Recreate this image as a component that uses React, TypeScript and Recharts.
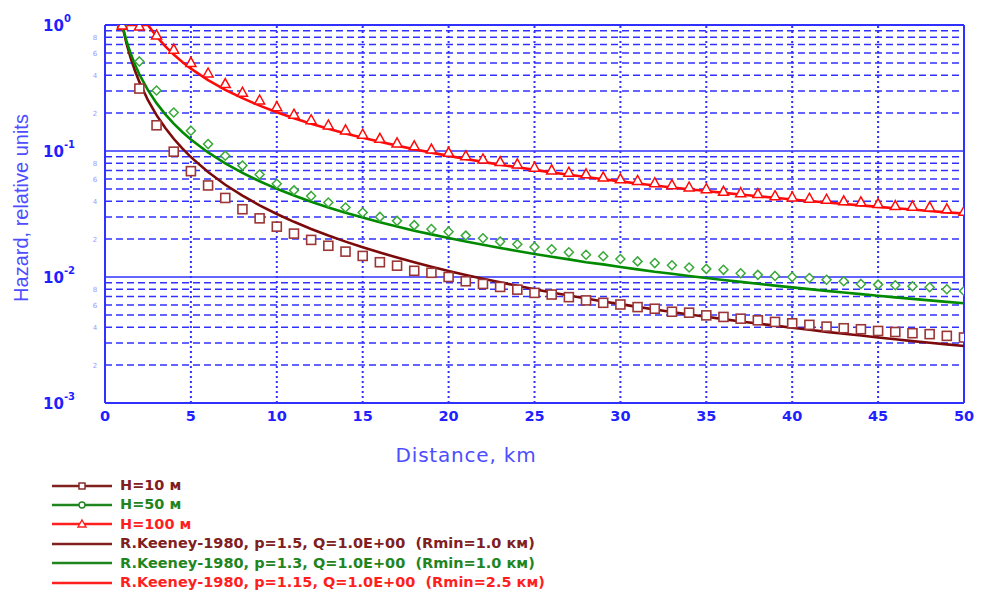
import { LineChart, Line, XAxis, YAxis, ReferenceLine } from 'recharts';

// markers: hazard at whole kilometres
const distKm = [
  1, 2, 3, 4, 5, 6, 7, 8, 9, 10, 11, 12, 13, 14, 15, 16, 17, 18, 19, 20, 21, 22, 23, 24, 25,
  26, 27, 28, 29, 30, 31, 32, 33, 34, 35, 36, 37, 38, 39, 40, 41, 42, 43, 44, 45, 46, 47, 48, 49, 50,
];
const hazardH10 = [
  1, 0.313, 0.16, 0.0988, 0.0692, 0.0533, 0.0424, 0.0345, 0.0292, 0.0251,
  0.0221, 0.0197, 0.0177, 0.0159, 0.0147, 0.0131, 0.0123, 0.0112, 0.0108, 0.01,
  0.00925, 0.00881, 0.00834, 0.00794, 0.00748, 0.00726, 0.00692, 0.00652, 0.00624, 0.00605,
  0.00577, 0.0056, 0.0053, 0.00521, 0.00496, 0.00482, 0.00467, 0.00453, 0.0044, 0.00429,
  0.00417, 0.00404, 0.00392, 0.00385, 0.00373, 0.00366, 0.00358, 0.00352, 0.00341, 0.00331,
];
const hazardH50 = [
  1, 0.514, 0.302, 0.202, 0.145, 0.1135, 0.0918, 0.0766, 0.0651, 0.055,
  0.0487, 0.044, 0.039, 0.0356, 0.0325, 0.03, 0.0279, 0.0258, 0.024, 0.0229,
  0.0213, 0.0203, 0.0191, 0.0182, 0.0173, 0.0166, 0.0157, 0.015, 0.0146, 0.0139,
  0.0133, 0.0129, 0.0124, 0.0119, 0.0116, 0.0114, 0.0107, 0.0104, 0.0102, 0.01,
  0.00982, 0.00951, 0.00925, 0.00881, 0.0087, 0.0086, 0.00845, 0.0083, 0.008, 0.00775,
];
const hazardH100 = [
  1, 0.98, 0.834, 0.643, 0.505, 0.416, 0.343, 0.293, 0.254, 0.225,
  0.196, 0.177, 0.161, 0.147, 0.136, 0.126, 0.116, 0.11, 0.1037, 0.0977,
  0.0918, 0.0865, 0.0824, 0.079, 0.0744, 0.0708, 0.0679, 0.0659, 0.0621, 0.0602,
  0.0584, 0.056, 0.054, 0.0518, 0.0502, 0.0479, 0.0467, 0.0459, 0.0442, 0.0432,
  0.0422, 0.0414, 0.0402, 0.0395, 0.0383, 0.0369, 0.0365, 0.036, 0.0348, 0.0333,
];

// R.Keeney-1980 curves
const curveKm = [
  1, 1.25, 1.5, 1.75, 2, 2.5, 3, 3.5, 4, 4.5, 5,
  6, 7, 8, 9, 10, 11, 12, 13, 14, 15, 16, 17, 18, 19, 20, 21, 22, 23, 24, 25,
  26, 27, 28, 29, 30, 31, 32, 33, 34, 35, 36, 37, 38, 39, 40, 41, 42, 43, 44, 45, 46, 47, 48, 49, 50,
];
const keeneyP15 = [
  1, 0.7155, 0.5443, 0.4319, 0.3536, 0.253, 0.1925, 0.1527, 0.125, 0.1048, 0.08944,
  0.06804, 0.05399, 0.04419, 0.03704, 0.03162, 0.02741, 0.02406, 0.02133, 0.01909, 0.01721,
  0.01563, 0.01427, 0.01309, 0.01207, 0.01118, 0.01039, 0.00969, 0.00907, 0.00851, 0.008,
  0.00754, 0.00713, 0.00675, 0.0064, 0.00609, 0.00579, 0.00552, 0.00528, 0.00504, 0.00483,
  0.00463, 0.00444, 0.00427, 0.00411, 0.00395, 0.00381, 0.00367, 0.00355, 0.00343, 0.00331,
  0.00321, 0.0031, 0.00301, 0.00292, 0.00283,
];
const keeneyP13 = [
  1, 0.7482, 0.5903, 0.4831, 0.4061, 0.3039, 0.2397, 0.1962, 0.1649, 0.1415, 0.1234,
  0.0974, 0.0797, 0.067, 0.0575, 0.0501, 0.0443, 0.0395, 0.0356, 0.0324, 0.0296,
  0.0272, 0.0252, 0.0233, 0.0218, 0.0204, 0.0191, 0.018, 0.017, 0.0161, 0.0152,
  0.0145, 0.0138, 0.0131, 0.0126, 0.012, 0.0115, 0.011, 0.0106, 0.0102, 0.00983,
  0.00948, 0.00915, 0.00884, 0.00854, 0.00827, 0.00801, 0.00776, 0.00753, 0.00731, 0.00709,
  0.00689, 0.0067, 0.00652, 0.00635, 0.00619,
];
const keeneyP115 = [
  1, 1, 1, 1, 1, 1, 0.8108, 0.6791, 0.5825, 0.5087, 0.4506,
  0.3654, 0.306, 0.2625, 0.2292, 0.2031, 0.182, 0.1647, 0.1502, 0.1379, 0.1274,
  0.1183, 0.1103, 0.1033, 0.0971, 0.0915, 0.0865, 0.082, 0.0779, 0.0742, 0.0708,
  0.0677, 0.0648, 0.0621, 0.0597, 0.0574, 0.0553, 0.0533, 0.0514, 0.0497, 0.0481,
  0.0465, 0.0451, 0.0437, 0.0425, 0.0412, 0.0401, 0.039, 0.038, 0.037, 0.036,
  0.0351, 0.0343, 0.0334, 0.0326, 0.0319,
];

const xTicks = [0, 5, 10, 15, 20, 25, 30, 35, 40, 45, 50];
const xGridKm = [5, 10, 15, 20, 25, 30, 35, 40, 45];
const yTicks = [
  1, 0.9, 0.8, 0.7, 0.6, 0.5, 0.4, 0.3, 0.2,
  0.1, 0.09, 0.08, 0.07, 0.06, 0.05, 0.04, 0.03, 0.02,
  0.01, 0.009, 0.008, 0.007, 0.006, 0.005, 0.004, 0.003, 0.002,
  0.001,
];
const yMajor = [1, 0.1, 0.01, 0.001];
const yMajorExp = ['0', '-1', '-2', '-3'];
const yMinorLabeled = [0.8, 0.6, 0.4, 0.2, 0.08, 0.06, 0.04, 0.02, 0.008, 0.006, 0.004, 0.002];
const yMinorText = ['8', '6', '4', '2', '8', '6', '4', '2', '8', '6', '4', '2'];

const legendLabels = [
  'H=10 м',
  'H=50 м',
  'H=100 м',
  'R.Keeney-1980, p=1.5, Q=1.0E+00  (Rmin=1.0 км)',
  'R.Keeney-1980, p=1.3, Q=1.0E+00  (Rmin=1.0 км)',
  'R.Keeney-1980, p=1.15, Q=1.0E+00  (Rmin=2.5 км)',
];

const BLUE = '#3030ff';
const BROWN = '#7d0a0a';
const BROWN_MARK = '#9c3535';
const GREEN = '#008a00';
const GREEN_MARK = '#3aa83a';
const RED = '#ff0a0a';
const legendColors = ['#80201f', '#1f861f', '#ff1f1f', '#80201f', '#1f861f', '#ff1f1f'];
const legendMarks = ['square', 'circle', 'triangle', '', '', ''];

const toPoints = (xs: number[], ys: number[]) => xs.map((r, i) => ({ r, h: ys[i] }));
const h10Data = toPoints(distKm, hazardH10);
const h50Data = toPoints(distKm, hazardH50);
const h100Data = toPoints(distKm, hazardH100);
const p15Data = toPoints(curveKm, keeneyP15);
const p13Data = toPoints(curveKm, keeneyP13);
const p115Data = toPoints(curveKm, keeneyP115);

const squareDot = (props: any) => (
  <rect key={`sq-${props.index}`} x={props.cx - 4.5} y={props.cy - 4.5} width={9} height={9}
    fill="#fff" stroke={BROWN_MARK} strokeWidth={1.6} />
);
const diamondDot = (props: any) => {
  const { cx, cy } = props;
  return (
    <path key={`dm-${props.index}`} d={`M${cx},${cy - 4.5}L${cx + 4.5},${cy}L${cx},${cy + 4.5}L${cx - 4.5},${cy}Z`}
      fill="#fff" stroke={GREEN_MARK} strokeWidth={1.5} />
  );
};
const triangleDot = (props: any) => {
  const { cx, cy } = props;
  return (
    <path key={`tr-${props.index}`} d={`M${cx},${cy - 5}L${cx + 5},${cy + 4}L${cx - 5},${cy + 4}Z`}
      fill="#fff" stroke={RED} strokeWidth={1.5} />
  );
};

const YTick = (props: any) => {
  const { y, payload } = props;
  const v = payload.value;
  const mi = yMajor.indexOf(v);
  if (mi >= 0) {
    return (
      <text x={43} y={y + 6} fill="#1f1fff" fontFamily="'DejaVu Sans', Verdana, sans-serif" fontWeight="bold" fontSize={15}>
        10<tspan dy={-9} fontSize={10}>{yMajorExp[mi]}</tspan>
      </text>
    );
  }
  const ni = yMinorLabeled.findIndex((m) => Math.abs(m - v) < m * 1e-6);
  if (ni < 0) return <g />;
  return (
    <text x={95} y={y + 3} textAnchor="middle" fill="#9a9aff" fontFamily="'DejaVu Sans', sans-serif" fontSize={7}>
      {yMinorText[ni]}
    </text>
  );
};

const YTitle = () => (
  <text x={21} y={208} transform="rotate(-90 21 208)" textAnchor="middle" dominantBaseline="central"
    fill="#4d4dff" fontFamily="'Liberation Sans', Arial, sans-serif" fontSize={20}>
    Hazard, relative units
  </text>
);

const XTitle = () => (
  <text x={466} y={462} textAnchor="middle" fill="#4d4dff"
    fontFamily="'DejaVu Sans', Verdana, sans-serif" fontSize={20} letterSpacing={0.8}>
    Distance, km
  </text>
);

function LegendMark({ kind, color }: { kind: string; color: string }) {
  return (
    <svg width={60} height={12} style={{ display: 'block' }}>
      <line x1={0} y1={6} x2={60} y2={6} stroke={color} strokeWidth={2.5} />
      {kind === 'square' && <rect x={27} y={3} width={6} height={6} fill="#fff" stroke={color} strokeWidth={1.4} />}
      {kind === 'circle' && <circle cx={30} cy={6} r={3} fill="#fff" stroke={color} strokeWidth={1.4} />}
      {kind === 'triangle' && <path d="M30,2L34,9L26,9Z" fill="#fff" stroke={color} strokeWidth={1.4} />}
    </svg>
  );
}

export default function App() {
  return (
    <div style={{ position: 'absolute', left: 0, top: 0, width: 982, height: 602, background: '#fff' }}>
      <LineChart width={982} height={602} margin={{ top: 25, right: 18, left: 0, bottom: 139 }}>
        <XAxis
          type="number"
          dataKey="r"
          domain={[0, 50]}
          ticks={xTicks}
          interval={0}
          allowDataOverflow
          height={60}
          tickLine={false}
          axisLine={{ stroke: BLUE, strokeWidth: 2 }}
          tick={{ fill: '#1f1fff', fontSize: 14.5, fontWeight: 'bold', fontFamily: "'DejaVu Sans', Verdana, sans-serif" }}
          label={<XTitle />}
        />
        <YAxis
          type="number"
          scale="log"
          domain={[0.001, 1]}
          ticks={yTicks}
          interval={0}
          allowDataOverflow
          width={105}
          tickLine={false}
          axisLine={{ stroke: BLUE, strokeWidth: 2 }}
          tick={<YTick />}
          label={<YTitle />}
        />
        {yTicks.filter((v) => v < 1 && v > 0.001).map((v) => (
          <ReferenceLine key={`hy-${v}`} y={v} stroke={BLUE} strokeWidth={1.5}
            strokeDasharray={yMajor.includes(v) ? undefined : '7 4'} />
        ))}
        <ReferenceLine y={1} stroke={BLUE} strokeWidth={2} />
        {xGridKm.map((v) => (
          <ReferenceLine key={`vx-${v}`} x={v} stroke={BLUE} strokeWidth={2} strokeDasharray="2 3" />
        ))}
        <ReferenceLine x={50} stroke={BLUE} strokeWidth={2} />

        <Line data={p15Data} dataKey="h" stroke={BROWN} strokeWidth={2.6} dot={false} isAnimationActive={false} />
        <Line data={p13Data} dataKey="h" stroke={GREEN} strokeWidth={2.6} dot={false} isAnimationActive={false} />
        <Line data={p115Data} dataKey="h" stroke={RED} strokeWidth={2.6} dot={false} isAnimationActive={false} />
        <Line data={h10Data} dataKey="h" stroke="none" dot={squareDot} isAnimationActive={false} />
        <Line data={h50Data} dataKey="h" stroke="none" dot={diamondDot} isAnimationActive={false} />
        <Line data={h100Data} dataKey="h" stroke="none" dot={triangleDot} isAnimationActive={false} />
      </LineChart>

      <div style={{ position: 'absolute', left: 52, top: 476, fontFamily: "'DejaVu Sans', Verdana, sans-serif", fontWeight: 'bold', fontSize: 14.5 }}>
        {legendLabels.map((label, i) => (
          <div key={label} style={{ display: 'flex', alignItems: 'center', height: 19.4 }}>
            <LegendMark kind={legendMarks[i]} color={legendColors[i]} />
            <span style={{ marginLeft: 8, color: legendColors[i], whiteSpace: 'pre', lineHeight: '19.4px' }}>{label}</span>
          </div>
        ))}
      </div>
    </div>
  );
}
